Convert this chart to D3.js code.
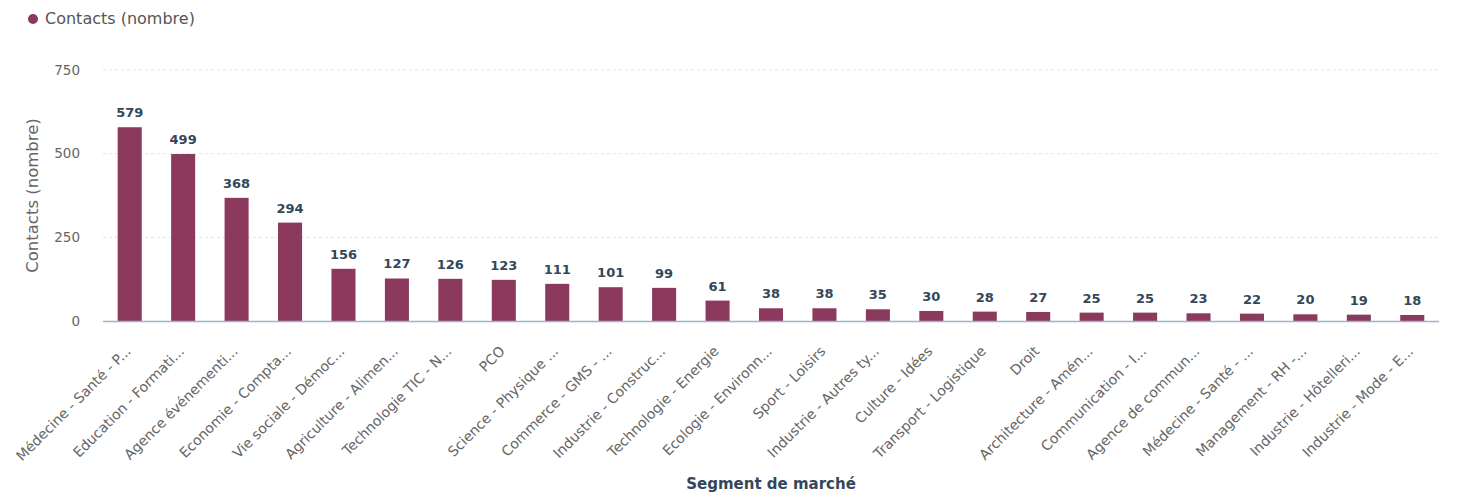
<!DOCTYPE html>
<html><head><meta charset="utf-8">
<script src="https://cdn.jsdelivr.net/npm/d3@7"></script>
<style>
body{margin:0;background:#fff;}
svg{display:block;font-family:"DejaVu Sans",sans-serif;}
</style></head>
<body><svg id="c" width="1457" height="498"></svg>
<script>
const categories = ["Médecine - Santé - P...","Education - Formati...","Agence événementi...","Economie - Compta...","Vie sociale - Démoc...","Agriculture - Alimen...","Technologie TIC - N...","PCO","Science - Physique ...","Commerce - GMS - ...","Industrie - Construc...","Technologie - Energie","Ecologie - Environn...","Sport - Loisirs","Industrie - Autres ty...","Culture - Idées","Transport - Logistique","Droit","Architecture - Amén...","Communication - I...","Agence de commun...","Médecine - Santé - ...","Management - RH -...","Industrie - Hôtelleri...","Industrie - Mode - E..."];
const values = [579,499,368,294,156,127,126,123,111,101,99,61,38,38,35,30,28,27,25,25,23,22,20,19,18];
const yTicks = [0,250,500,750];
const seriesName = "Contacts (nombre)";
const xTitle = "Segment de marché";
const yTitle = "Contacts (nombre)";

const svg = d3.select("#c");
const mLeft = 103, mRight = 1439, mTop = 70, mBottom = 321;
const x = d3.scaleBand().domain(categories).range([mLeft, mRight]).paddingInner(0.55).paddingOuter(0.275);
const y = d3.scaleLinear().domain([0,750]).range([mBottom, mTop]);
const color = "#8b3a5e";

// grid
svg.append("g").selectAll("line").data(yTicks.filter(d=>d>0)).join("line")
  .attr("x1", mLeft).attr("x2", mRight).attr("y1", d=>y(d)).attr("y2", d=>y(d))
  .attr("stroke","#dfe3eb").attr("stroke-dasharray","3,3");

// y axis labels
const yAxis = svg.append("g").attr("transform",`translate(${mLeft},0)`)
  .call(d3.axisLeft(y).tickValues(yTicks).tickSize(0).tickPadding(23));
yAxis.select(".domain").remove();
yAxis.selectAll("text").attr("font-size",13.5).attr("fill","#666").attr("font-family","DejaVu Sans");

// bars
svg.append("g").selectAll("rect").data(values).join("rect")
  .attr("x",(d,i)=>x(categories[i])).attr("width",x.bandwidth())
  .attr("y",d=>y(d)).attr("height",d=>y(0)-y(d)).attr("fill",color);

// baseline
svg.append("line").attr("x1",mLeft).attr("x2",mRight).attr("y1",mBottom+0.5).attr("y2",mBottom+0.5)
  .attr("stroke","#9fb4c6").attr("stroke-width",1.5);

// value labels
svg.append("g").selectAll("text").data(values).join("text")
  .attr("x",(d,i)=>x(categories[i])+x.bandwidth()/2).attr("y",d=>y(d)-10)
  .attr("text-anchor","middle").attr("font-size",13).attr("font-weight","bold")
  .attr("fill","#33475b").text(d=>d);

// x axis labels
const xAxis = svg.append("g").attr("transform",`translate(0,${mBottom})`)
  .call(d3.axisBottom(x).tickSize(0).tickPadding(0));
xAxis.select(".domain").remove();
xAxis.selectAll("text").attr("font-size",14).attr("fill","#666").attr("font-family","DejaVu Sans")
  .attr("text-anchor","end").attr("dy",0)
  .attr("transform","translate(2,31) rotate(-45)");

// axis titles
svg.append("text").attr("x",(mLeft+mRight)/2).attr("y",489).attr("text-anchor","middle")
  .attr("font-size",15).attr("font-weight","bold").attr("fill","#33475b").text(xTitle);
svg.append("text").attr("transform",`translate(38,${(mTop+mBottom)/2}) rotate(-90)`)
  .attr("text-anchor","middle").attr("font-size",16.5).attr("fill","#666").text(yTitle);

// legend
svg.append("circle").attr("cx",33).attr("cy",19).attr("r",5).attr("fill",color);
svg.append("text").attr("x",45).attr("y",24).attr("font-size",16).attr("fill","#555").text(seriesName);
</script></body></html>
